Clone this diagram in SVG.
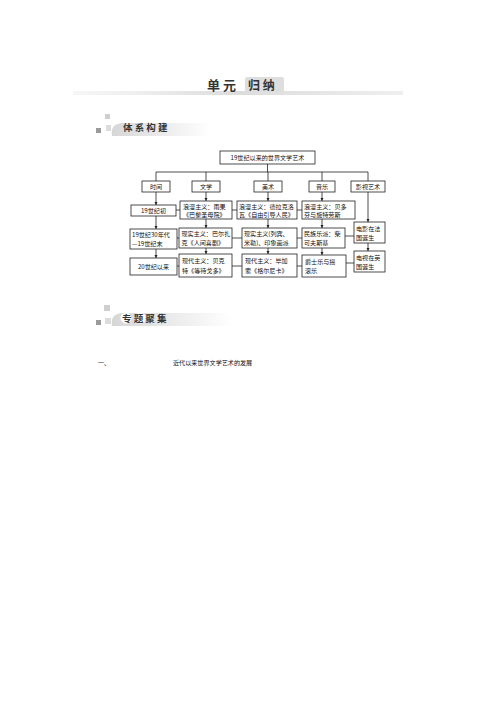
<svg xmlns="http://www.w3.org/2000/svg" width="496" height="702" viewBox="0 0 496 702">
<defs>
<style>
.b{fill:#fff;stroke:#222;stroke-width:0.8}
.t{font-family:"Noto Sans CJK SC","Noto Sans",sans-serif;font-size:6.1px;fill:#111}
.c{text-anchor:middle}
.l{stroke:#222;stroke-width:0.8;fill:none}
.h{font-family:"Noto Sans CJK SC",sans-serif;font-weight:bold;fill:#333}
</style>
<marker id="a" viewBox="0 0 6 6" refX="6" refY="3" markerWidth="4" markerHeight="4" orient="auto"><path d="M0,0L6,3L0,6z" fill="#222"/></marker>
<linearGradient id="g1" x1="0" x2="1" y1="0" y2="0"><stop offset="0" stop-color="#f6f6f6"/><stop offset="0.2" stop-color="#eeeeee"/><stop offset="0.5" stop-color="#dcdcdc"/><stop offset="1" stop-color="#efefef"/></linearGradient>
<linearGradient id="g2" x1="0" x2="1" y1="0" y2="0"><stop offset="0" stop-color="#d6d6d6"/><stop offset="1" stop-color="#ffffff"/></linearGradient>
</defs>
<rect width="496" height="702" fill="#fff"/>

<g id="title">
<rect x="73" y="91" width="330" height="4" fill="url(#g1)"/>
<text x="207" y="90" class="h" font-size="13" font-weight="normal">单 元</text>
<rect x="245" y="77" width="39" height="15" rx="2" fill="#dedede"/>
<text x="248" y="89.5" class="h" font-size="12">归 纳</text>
</g>

<g id="sec1">
<rect x="105" y="114" width="5" height="5" fill="#cfcfcf"/>
<rect x="96" y="128" width="5" height="5" fill="#9a9a9a"/>
<rect x="106" y="125" width="5" height="6" fill="#dcdcdc"/>
<path d="M112,136 Q110,124 122,123 L210,123 L210,136 Z" fill="url(#g2)"/>
<rect x="112" y="133" width="100" height="1.5" fill="url(#g2)"/>
<text x="123" y="130.5" class="h" font-size="9.5">体 系 构 建</text>
</g>

<g id="sec2">
<rect x="104" y="305" width="6" height="6" fill="#cfcfcf"/>
<rect x="96" y="320" width="5" height="5" fill="#9a9a9a"/>
<rect x="105" y="318" width="6" height="6" fill="#dcdcdc"/>
<path d="M112,326 Q110,314 122,313 L232,313 L232,326 Z" fill="url(#g2)"/>
<rect x="112" y="323" width="122" height="1.5" fill="url(#g2)"/>
<circle cx="126" cy="318" r="5.5" fill="#fff"/>
<circle cx="140" cy="318" r="5.5" fill="#fff"/>
<text x="122" y="321.5" class="h" font-size="9.5">专 题 聚 集</text>
</g>

<g id="intro">
<text x="98" y="365" class="t" font-size="8.5px">一、</text>
<text x="173" y="365" class="t" font-size="8.7px">近代以来世界文学艺术的发展</text>
</g>

<g id="connectors">
<path class="l" d="M267.5,164V172M156,172H368M156,172V181M206,172V181M268,172V181M322,172V181M368,172V181"/>
<g marker-end="url(#a)">
<path class="l" d="M156,192V205"/><path class="l" d="M156,216V229"/><path class="l" d="M156,249V258"/>
<path class="l" d="M206,192V201"/><path class="l" d="M206,219V228"/><path class="l" d="M206,248V254"/>
<path class="l" d="M268,192V201"/><path class="l" d="M268,219V228"/><path class="l" d="M268,248V254"/>
<path class="l" d="M322,192V201"/><path class="l" d="M322,219V228"/><path class="l" d="M322,248V255"/>
<path class="l" d="M368,192V222"/><path class="l" d="M368,243V251"/>
</g>
<path class="l" d="M176,210H180M232,210H237M297,210H302M177,238H179M232,238H242M297,238H302M345,236H354M177,266H179M232,266H242M297,266H302M346,263H354"/>
</g>

<g id="top"><rect class="b" x="220" y="151" width="95" height="13"/><text class="t c" x="267.5" y="160">19世纪以来的世界文学艺术</text></g>

<g id="h-time"><rect class="b" x="142" y="181" width="28" height="11"/><text class="t c" x="156" y="189">时间</text></g>
<g id="h-lit"><rect class="b" x="192" y="181" width="28" height="11"/><text class="t c" x="206" y="189">文学</text></g>
<g id="h-art"><rect class="b" x="254" y="181" width="28" height="11"/><text class="t c" x="268" y="189">美术</text></g>
<g id="h-music"><rect class="b" x="309" y="181" width="26" height="11"/><text class="t c" x="322" y="189">音乐</text></g>
<g id="h-film"><rect class="b" x="351" y="181" width="34" height="11"/><text class="t c" x="368" y="189">影视艺术</text></g>

<g id="t1"><rect class="b" x="131" y="205" width="45" height="11"/><text class="t c" x="153.5" y="213">19世纪初</text></g>
<g id="t2"><rect class="b" x="130" y="229" width="47" height="20"/><text class="t" x="132" y="237">19世纪30年代</text><text class="t" x="132" y="246">—19世纪末</text></g>
<g id="t3"><rect class="b" x="130" y="258" width="47" height="17"/><text class="t c" x="153.5" y="269">20世纪以来</text></g>

<g id="l1"><rect class="b" x="180" y="201" width="52" height="18"/><text class="t" x="183" y="208.5">浪漫主义：雨果</text><text class="t" x="183" y="216.5">《巴黎圣母院》</text></g>
<g id="l2"><rect class="b" x="179" y="228" width="53" height="20"/><text class="t" x="181.5" y="236">现实主义：巴尔扎</text><text class="t" x="181.5" y="245">克《人间喜剧》</text></g>
<g id="l3"><rect class="b" x="179" y="254" width="53" height="23"/><text class="t" x="182" y="263">现代主义：贝克</text><text class="t" x="182" y="273">特《等待戈多》</text></g>

<g id="a1"><rect class="b" x="237" y="201" width="60" height="18"/><text class="t" x="239" y="208.5">浪漫主义：德拉克洛</text><text class="t" x="239" y="216.5">瓦《自由引导人民》</text></g>
<g id="a2"><rect class="b" x="242" y="228" width="55" height="20"/><text class="t" x="244" y="236">现实主义(列宾、</text><text class="t" x="244" y="245">米勒)、印象画派</text></g>
<g id="a3"><rect class="b" x="242" y="254" width="55" height="23"/><text class="t" x="245" y="263">现代主义：毕加</text><text class="t" x="245" y="273">索《格尔尼卡》</text></g>

<g id="m1"><rect class="b" x="302" y="201" width="53" height="18"/><text class="t" x="304" y="208.5">浪漫主义：贝多</text><text class="t" x="304" y="216.5">芬与施特劳斯</text></g>
<g id="m2"><rect class="b" x="302" y="228" width="43" height="20"/><text class="t" x="304" y="236">民族乐派：柴</text><text class="t" x="304" y="245">可夫斯基</text></g>
<g id="m3"><rect class="b" x="302" y="255" width="44" height="22"/><text class="t" x="305" y="264">爵士乐与摇</text><text class="t" x="305" y="273">滚乐</text></g>

<g id="f1"><rect class="b" x="354" y="222" width="31" height="21"/><text class="t" x="356" y="231">电影在法</text><text class="t" x="356" y="240">国诞生</text></g>
<g id="f2"><rect class="b" x="354" y="251" width="31" height="21"/><text class="t" x="356" y="260">电视在英</text><text class="t" x="356" y="269">国诞生</text></g>
</svg>
